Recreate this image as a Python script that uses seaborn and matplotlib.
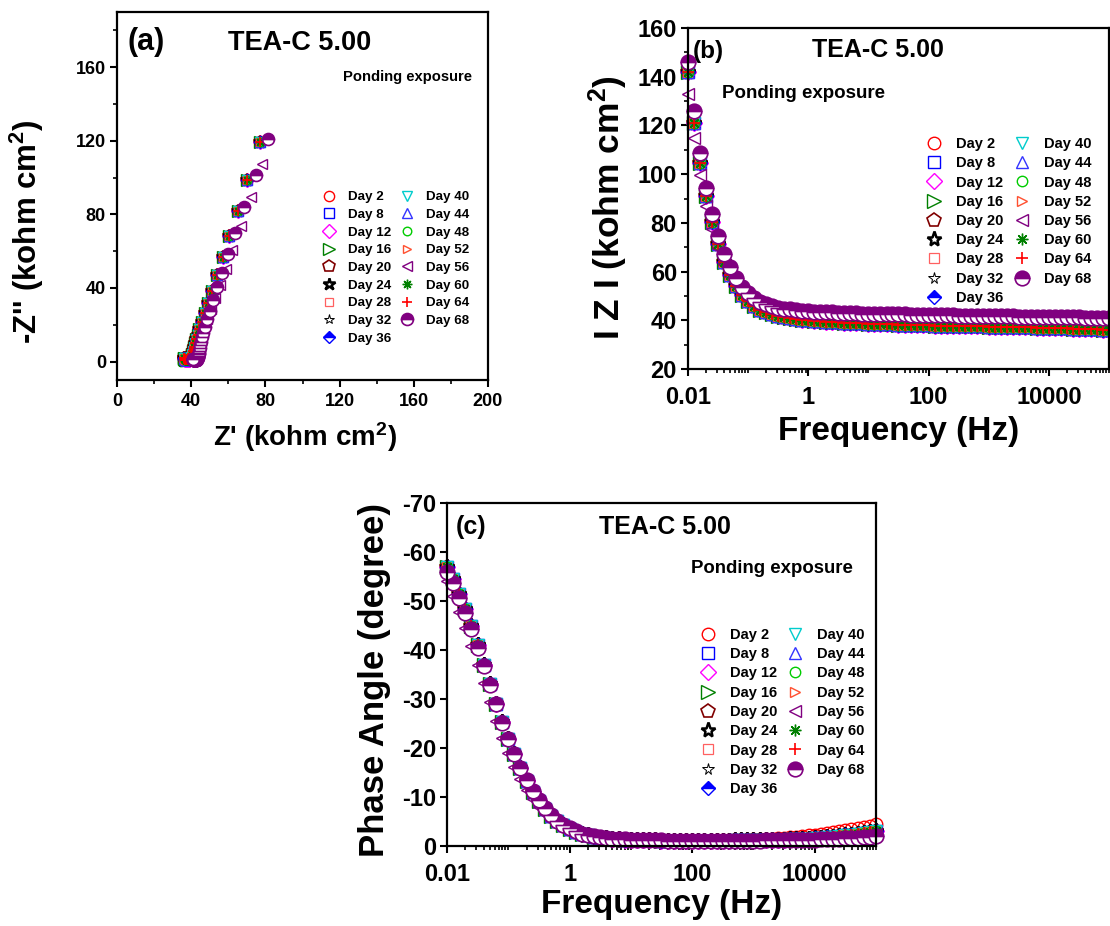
import numpy as np
import matplotlib
matplotlib.use("Agg")
import matplotlib.pyplot as plt
import seaborn as sns
from matplotlib.ticker import MultipleLocator, FixedLocator, FixedFormatter, LogLocator, NullFormatter

# ---------------- data ----------------
day_labels = ["Day 2", "Day 8", "Day 12", "Day 16", "Day 20", "Day 24", "Day 28", "Day 32", "Day 36",
              "Day 40", "Day 44", "Day 48", "Day 52", "Day 56", "Day 60", "Day 64", "Day 68"]

freq = [0.01, 0.0126, 0.0158, 0.02, 0.0251, 0.0316, 0.0398, 0.0501, 0.0631, 0.0794,
        0.1, 0.126, 0.158, 0.2, 0.251, 0.316, 0.398, 0.501, 0.631, 0.794,
        1, 1.26, 1.58, 2, 2.51, 3.16, 3.98, 5.01, 6.31, 7.94,
        10, 12.6, 15.8, 20, 25.1, 31.6, 39.8, 50.1, 63.1, 79.4,
        100, 126, 158, 200, 251, 316, 398, 501, 631, 794,
        1000, 1260, 1580, 2000, 2510, 3160, 3980, 5010, 6310, 7940,
        10000, 12600, 15800, 20000, 25100, 31600, 39800, 50100, 63100, 79400, 100000]

# |Z| (kohm cm2)
zmod_common = [142, 121, 104.5, 91, 80.5, 71.5, 64, 58.5, 54, 50.5, 47.8,
               45.8, 44.3, 43.2, 42.4, 41.8, 41.3, 40.9, 40.6, 40.3, 40.0,
               39.8, 39.6, 39.4, 39.25, 39.1, 39.0, 38.9, 38.8, 38.7, 38.6,
               38.5, 38.45, 38.4, 38.3, 38.25, 38.2, 38.1, 38.05, 38.0, 37.9,
               37.85, 37.8, 37.75, 37.7, 37.65, 37.6, 37.55, 37.5, 37.45, 37.4,
               37.35, 37.3, 37.25, 37.2, 37.15, 37.1, 37.05, 37.0, 36.95, 36.9,
               36.85, 36.8, 36.7, 36.6, 36.55, 36.5, 36.4, 36.3, 36.2, 36.1]
zmod_day56 = [133, 115, 99.5, 87, 77.3, 69.5, 63, 58, 54, 50.8, 48.3,
              46.5, 45.1, 44.0, 43.2, 42.6, 42.1, 41.7, 41.4, 41.1, 40.9,
              40.7, 40.55, 40.4, 40.3, 40.2, 40.1, 40.0, 39.95, 39.9, 39.85,
              39.8, 39.75, 39.7, 39.65, 39.6, 39.55, 39.5, 39.5, 39.45, 39.4,
              39.4, 39.35, 39.3, 39.3, 39.25, 39.2, 39.2, 39.15, 39.1, 39.1,
              39.05, 39.0, 39.0, 38.95, 38.9, 38.9, 38.85, 38.8, 38.8, 38.75,
              38.7, 38.7, 38.65, 38.6, 38.6, 38.55, 38.5, 38.5, 38.45, 38.4]
zmod_day68 = [146, 126, 108.5, 94.5, 83.5, 74.5, 67.2, 61.8, 57.3, 53.8, 51.0,
              49.0, 47.6, 46.6, 45.8, 45.2, 44.8, 44.5, 44.2, 44.0, 43.8,
              43.6, 43.45, 43.3, 43.2, 43.1, 43.0, 42.9, 42.8, 42.75, 42.7,
              42.65, 42.6, 42.55, 42.5, 42.45, 42.4, 42.35, 42.3, 42.25, 42.2,
              42.15, 42.1, 42.05, 42.0, 41.95, 41.9, 41.85, 41.8, 41.8, 41.75,
              41.7, 41.65, 41.6, 41.6, 41.55, 41.5, 41.45, 41.4, 41.4, 41.35,
              41.3, 41.25, 41.2, 41.2, 41.15, 41.1, 41.05, 41.0, 41.0, 40.95]

# phase angle (degree)
phase_common = [-57.0, -54.5, -51.5, -48.3, -44.8, -41.0, -37.0, -33.0, -29.0, -25.3, -21.8,
                -18.7, -15.9, -13.3, -11.1, -9.2, -7.6, -6.2, -5.1, -4.2, -3.5,
                -2.9, -2.5, -2.15, -1.9, -1.7, -1.55, -1.45, -1.35, -1.3, -1.25,
                -1.2, -1.2, -1.15, -1.15, -1.1, -1.1, -1.1, -1.1, -1.1, -1.1,
                -1.1, -1.1, -1.1, -1.1, -1.1, -1.1, -1.15, -1.15, -1.15, -1.2,
                -1.2, -1.25, -1.25, -1.3, -1.3, -1.35, -1.4, -1.45, -1.5, -1.6,
                -1.7, -1.8, -1.9, -2.0, -2.15, -2.3, -2.45, -2.6, -2.8, -3.0]
phase_day2 = [-56.0, -54.0, -51.2, -48.1, -44.7, -40.9, -37.0, -33.0, -29.0, -25.3, -21.8,
              -18.7, -15.9, -13.3, -11.1, -9.2, -7.6, -6.2, -5.1, -4.2, -3.5,
              -2.9, -2.5, -2.15, -1.9, -1.7, -1.55, -1.45, -1.35, -1.3, -1.25,
              -1.2, -1.2, -1.15, -1.15, -1.1, -1.1, -1.1, -1.1, -1.1, -1.1,
              -1.1, -1.1, -1.1, -1.15, -1.15, -1.2, -1.2, -1.25, -1.3, -1.35,
              -1.4, -1.45, -1.5, -1.6, -1.7, -1.8, -1.9, -2.0, -2.15, -2.3,
              -2.5, -2.7, -2.9, -3.1, -3.3, -3.5, -3.7, -3.9, -4.1, -4.4]
phase_day56 = [-54.0, -51.0, -47.8, -44.4, -40.8, -37.0, -33.2, -29.3, -25.6, -22.1, -19.0,
               -16.2, -13.7, -11.5, -9.6, -8.0, -6.6, -5.4, -4.4, -3.6, -3.0,
               -2.5, -2.15, -1.9, -1.7, -1.55, -1.45, -1.35, -1.3, -1.25, -1.2,
               -1.2, -1.15, -1.15, -1.1, -1.1, -1.1, -1.1, -1.1, -1.1, -1.1,
               -1.1, -1.1, -1.1, -1.1, -1.1, -1.1, -1.1, -1.1, -1.1, -1.1,
               -1.15, -1.15, -1.2, -1.2, -1.25, -1.25, -1.3, -1.35, -1.4, -1.45,
               -1.5, -1.6, -1.7, -1.8, -1.9, -2.0, -2.1, -2.25, -2.4, -2.55]
phase_day68 = [-56.0, -53.6, -50.7, -47.6, -44.3, -40.5, -36.8, -32.8, -28.9, -25.2, -21.8,
               -18.8, -16.0, -13.4, -11.2, -9.3, -7.7, -6.3, -5.2, -4.3, -3.6,
               -3.0, -2.55, -2.2, -1.95, -1.75, -1.6, -1.5, -1.4, -1.35, -1.3,
               -1.25, -1.2, -1.2, -1.15, -1.15, -1.1, -1.1, -1.1, -1.1, -1.1,
               -1.1, -1.1, -1.1, -1.1, -1.1, -1.1, -1.1, -1.1, -1.1, -1.1,
               -1.1, -1.15, -1.15, -1.15, -1.2, -1.2, -1.2, -1.25, -1.25, -1.3,
               -1.35, -1.4, -1.45, -1.5, -1.55, -1.6, -1.7, -1.75, -1.85, -1.95]

# Nyquist: Z' and -Z'' (kohm cm2)
zre_common = [77.3, 70.3, 65.1, 60.5, 57.1, 54.0, 51.1, 49.1, 47.2, 45.7, 44.4,
              43.4, 42.6, 42.0, 41.6, 41.3, 40.9, 40.7, 40.4, 40.2, 39.9,
              39.75, 39.55, 39.4, 39.2, 39.1, 39.0, 38.9, 38.8, 38.7, 38.6,
              38.5, 38.45, 38.4, 38.3, 38.25, 38.2, 38.1, 38.05, 38.0, 37.9,
              37.85, 37.8, 37.75, 37.7, 37.65, 37.6, 37.55, 37.5, 37.45, 37.4,
              37.35, 37.3, 37.25, 37.2, 37.15, 37.1, 37.05, 37.0, 36.95, 36.9,
              36.85, 36.8, 36.7, 36.6, 36.55, 36.5, 36.4, 36.3, 36.2, 36.1]
zim_common = [119.1, 98.5, 81.8, 68.0, 56.7, 46.9, 38.5, 31.9, 26.2, 21.6, 17.8,
              14.7, 12.1, 9.9, 8.2, 6.7, 5.5, 4.4, 3.6, 3.0, 2.4,
              2.0, 1.7, 1.5, 1.3, 1.2, 1.05, 1.0, 0.9, 0.9, 0.85,
              0.8, 0.8, 0.75, 0.75, 0.75, 0.75, 0.75, 0.75, 0.75, 0.75,
              0.7, 0.7, 0.7, 0.7, 0.7, 0.7, 0.75, 0.75, 0.75, 0.8,
              0.8, 0.8, 0.8, 0.85, 0.85, 0.85, 0.9, 0.95, 0.95, 1.0,
              1.1, 1.15, 1.2, 1.3, 1.35, 1.45, 1.55, 1.65, 1.75, 1.9]
zre_day56 = [78.2, 72.4, 66.8, 62.2, 58.5, 55.5, 52.7, 50.6, 48.7, 47.1, 45.7,
             44.7, 43.8, 43.1, 42.6, 42.2, 41.8, 41.5, 41.3, 41.0, 40.85,
             40.65, 40.5, 40.4, 40.3, 40.2, 40.1, 40.0, 39.95, 39.9, 39.85,
             39.8, 39.75, 39.7, 39.65, 39.6, 39.55, 39.5, 39.5, 39.45, 39.4,
             39.4, 39.35, 39.3, 39.3, 39.25, 39.2, 39.2, 39.15, 39.1, 39.1,
             39.05, 39.0, 39.0, 38.95, 38.9, 38.9, 38.85, 38.8, 38.8, 38.75,
             38.7, 38.7, 38.65, 38.6, 38.6, 38.55, 38.5, 38.5, 38.45, 38.4]
zim_day56 = [107.6, 89.4, 73.7, 60.9, 50.5, 41.8, 34.5, 28.4, 23.3, 19.1, 15.7,
             13.0, 10.7, 8.8, 7.2, 5.9, 4.8, 3.9, 3.2, 2.6, 2.1,
             1.8, 1.5, 1.35, 1.2, 1.1, 1.0, 0.95, 0.9, 0.85, 0.85,
             0.85, 0.8, 0.8, 0.75, 0.75, 0.75, 0.75, 0.75, 0.75, 0.75,
             0.75, 0.75, 0.75, 0.75, 0.75, 0.75, 0.75, 0.75, 0.75, 0.75,
             0.8, 0.8, 0.8, 0.8, 0.85, 0.85, 0.9, 0.9, 0.95, 1.0,
             1.0, 1.1, 1.15, 1.2, 1.3, 1.35, 1.4, 1.5, 1.6, 1.7]
zre_day68 = [81.6, 74.8, 68.7, 63.7, 59.8, 56.6, 53.8, 51.9, 50.2, 48.7, 47.4,
             46.4, 45.8, 45.3, 44.9, 44.6, 44.4, 44.2, 44.0, 43.9, 43.7,
             43.55, 43.4, 43.3, 43.2, 43.1, 43.0, 42.9, 42.8, 42.75, 42.7,
             42.65, 42.6, 42.55, 42.5, 42.45, 42.4, 42.35, 42.3, 42.25, 42.2,
             42.15, 42.1, 42.05, 42.0, 41.95, 41.9, 41.85, 41.8, 41.8, 41.75,
             41.7, 41.65, 41.6, 41.6, 41.55, 41.5, 41.45, 41.4, 41.4, 41.35,
             41.3, 41.25, 41.2, 41.2, 41.15, 41.1, 41.05, 41.0, 41.0, 40.95]
zim_day68 = [121.0, 101.4, 84.0, 69.8, 58.3, 48.4, 40.3, 33.5, 27.7, 22.9, 18.9,
             15.8, 13.1, 10.8, 8.9, 7.3, 6.0, 4.9, 4.0, 3.3, 2.75,
             2.3, 1.9, 1.65, 1.5, 1.3, 1.2, 1.1, 1.05, 1.0, 0.95,
             0.95, 0.9, 0.9, 0.85, 0.85, 0.8, 0.8, 0.8, 0.8, 0.8,
             0.8, 0.8, 0.8, 0.8, 0.8, 0.8, 0.8, 0.8, 0.8, 0.8,
             0.8, 0.85, 0.85, 0.85, 0.85, 0.85, 0.85, 0.9, 0.9, 0.95,
             0.95, 1.0, 1.05, 1.05, 1.1, 1.15, 1.2, 1.25, 1.3, 1.4]

zmod_by_day = {"Day 56": zmod_day56, "Day 68": zmod_day68}
phase_by_day = {"Day 2": phase_day2, "Day 56": phase_day56, "Day 68": phase_day68}
zre_by_day = {"Day 56": zre_day56, "Day 68": zre_day68}
zim_by_day = {"Day 56": zim_day56, "Day 68": zim_day68}

# ---------------- marker styles ----------------
STY = {
    "Day 2":  dict(marker="o", color="#FF0000", ms=9.0, mew=1.0, fill="none"),
    "Day 8":  dict(marker="s", color="#0000FF", ms=8.0, mew=1.0, fill="none"),
    "Day 12": dict(marker="D", color="#FF00FF", ms=8.3, mew=1.0, fill="none"),
    "Day 16": dict(marker=">", color="#008000", ms=10.0, mew=1.0, fill="none"),
    "Day 20": dict(marker="p", color="#800000", ms=10.5, mew=1.2, fill="none"),
    "Day 24": dict(marker="*", color="#000000", ms=11.0, mew=1.8, fill="none"),
    "Day 28": dict(marker="s", color="#FF6060", ms=6.5, mew=0.9, fill="none"),
    "Day 32": dict(marker="*", color="#000000", ms=8.5, mew=0.7, fill="none"),
    "Day 36": dict(marker="D", color="#0000FF", ms=7.3, mew=1.0, fill="top"),
    "Day 40": dict(marker="v", color="#00CCCC", ms=8.8, mew=1.0, fill="none"),
    "Day 44": dict(marker="^", color="#3333FF", ms=8.4, mew=1.0, fill="none"),
    "Day 48": dict(marker="o", color="#00CC00", ms=7.5, mew=1.0, fill="none"),
    "Day 52": dict(marker=">", color="#FF5030", ms=7.8, mew=1.0, fill="none"),
    "Day 56": dict(marker="<", color="#800080", ms=8.6, mew=1.0, fill="none"),
    "Day 60": dict(marker=(8, 2, 0), color="#008000", ms=8.4, mew=1.0, fill="line"),
    "Day 64": dict(marker="+", color="#FF0000", ms=9.0, mew=1.2, fill="line"),
    "Day 68": dict(marker="o", color="#800080", ms=10.5, mew=1.2, fill="top"),
}

# ---------------- theme ----------------
sns.set_theme(style="ticks")
plt.rcParams["font.family"] = ["Liberation Sans", "DejaVu Sans"]
plt.rcParams["font.weight"] = "bold"
plt.rcParams["axes.labelweight"] = "bold"
plt.rcParams["axes.unicode_minus"] = False
plt.rcParams["text.color"] = "black"
plt.rcParams["axes.labelcolor"] = "black"
plt.rcParams["xtick.color"] = "black"
plt.rcParams["ytick.color"] = "black"
plt.rcParams["axes.edgecolor"] = "black"
plt.rcParams["mathtext.fontset"] = "custom"
plt.rcParams["mathtext.rm"] = "Liberation Sans:bold"
plt.rcParams["mathtext.bf"] = "Liberation Sans:bold"
plt.rcParams["mathtext.it"] = "Liberation Sans:bold"
plt.rcParams["mathtext.default"] = "rm"

fig = plt.figure(figsize=(11.1, 9.26), dpi=100)
fig.patch.set_facecolor("white")

W, H = 1110.0, 926.0


def add_axes_px(left, top, right, bottom):
    return fig.add_axes([left / W, 1 - bottom / H, (right - left) / W, (bottom - top) / H])


def draw(ax, x, y, label, scale):
    st = STY[label]
    kw = dict(marker=st["marker"], markersize=st["ms"] * scale, markeredgewidth=st["mew"],
              markeredgecolor=st["color"], color=st["color"], linestyle="", clip_on=False)
    if st["fill"] == "none":
        kw["markerfacecolor"] = "none"
    elif st["fill"] == "top":
        kw["fillstyle"] = "top"
        kw["markerfacecolor"] = st["color"]
        kw["markerfacecoloralt"] = "white"
    sns.lineplot(x=x, y=y, ax=ax, estimator=None, sort=False, errorbar=None,
                 legend=False, label=label, **kw)


def style_axes(ax, labelsize, xpad=3, ypad=3, major_len=5, minor_len=3):
    for sp in ax.spines.values():
        sp.set_linewidth(1.6)
        sp.set_color("black")
        sp.set_visible(True)
    ax.tick_params(which="major", direction="out", length=major_len, width=1.5,
                   labelsize=labelsize, top=False, right=False, colors="black")
    ax.tick_params(axis="x", which="major", pad=xpad)
    ax.tick_params(axis="y", which="major", pad=ypad)
    ax.tick_params(which="minor", direction="out", length=minor_len, width=1.2,
                   top=False, right=False, colors="black")
    ax.set_facecolor("white")


def add_legend(ax, x_px, y_px, fs, hlen=1.0, htp=1.0, cs=0.75, ls=0.35):
    h, l = ax.get_legend_handles_labels()
    leg = ax.legend(h, l, ncol=2, frameon=False, loc="upper left",
                    bbox_to_anchor=(x_px / W, 1 - y_px / H), bbox_transform=fig.transFigure,
                    borderpad=0, borderaxespad=0, handlelength=hlen, handletextpad=htp,
                    columnspacing=cs, labelspacing=ls, numpoints=1,
                    prop={"size": fs, "weight": "bold", "family": ["Liberation Sans"]})
    for t in leg.get_texts():
        t.set_color("black")


# ---------------- panel (a): Nyquist ----------------
axa = add_axes_px(117, 12, 488, 380)
for lab in day_labels:
    draw(axa, zre_by_day.get(lab, zre_common), zim_by_day.get(lab, zim_common), lab, 0.82)
axa.set_xlim(0, 200)
axa.set_ylim(-10, 190)
axa.xaxis.set_major_locator(MultipleLocator(40))
axa.xaxis.set_minor_locator(MultipleLocator(20))
axa.yaxis.set_major_locator(FixedLocator([0, 40, 80, 120, 160]))
axa.yaxis.set_minor_locator(FixedLocator([20, 60, 100, 140, 180]))
style_axes(axa, 13, xpad=4)
axa.set_xlabel("Z' (kohm cm$^{2}$)", fontsize=20)
axa.set_ylabel("-Z'' (kohm cm$^{2}$)", fontsize=22.5)
axa.xaxis.label.set_va("center")
axa.yaxis.label.set_va("center")
axa.xaxis.set_label_coords(0.507, -0.155)
axa.yaxis.set_label_coords(-0.2426, 0.402)
axa.text(0.0296, 0.918, "(a)", transform=axa.transAxes, fontsize=22, ha="left", va="center")
axa.text(0.493, 0.916, "TEA-C 5.00", transform=axa.transAxes, fontsize=19.5, ha="center", va="center")
axa.text(0.782, 0.823, "Ponding exposure", transform=axa.transAxes, fontsize=10.6, ha="center", va="center")
add_legend(axa, 322.3, 191.0, 9.6, htp=0.93, cs=0.71, ls=0.40)

# ---------------- panel (b): |Z| vs frequency ----------------
axb = add_axes_px(688, 28, 1109, 369)
axb.set_xscale("log")
for lab in day_labels:
    draw(axb, freq, zmod_by_day.get(lab, zmod_common), lab, 1.0)
axb.set_xlim(0.01, 1e5)
axb.set_ylim(20, 160)
axb.xaxis.set_major_locator(FixedLocator([0.01, 1, 100, 10000]))
axb.xaxis.set_major_formatter(FixedFormatter(["0.01", "1", "100", "10000"]))
axb.xaxis.set_minor_locator(LogLocator(base=10, subs=np.arange(1, 10), numticks=100))
axb.xaxis.set_minor_formatter(NullFormatter())
axb.yaxis.set_major_locator(MultipleLocator(20))
axb.yaxis.set_minor_locator(MultipleLocator(10))
style_axes(axb, 17, xpad=7)
axb.set_xlabel("Frequency (Hz)", fontsize=24)
axb.set_ylabel("I Z I (kohm cm$^{2}$)", fontsize=25.5)
axb.xaxis.label.set_va("center")
axb.yaxis.label.set_va("center")
axb.xaxis.set_label_coords(0.499, -0.182)
axb.yaxis.set_label_coords(-0.19, 0.472)
axb.text(0.012, 0.93, "(b)", transform=axb.transAxes, fontsize=17.5, ha="left", va="center")
axb.text(0.45, 0.935, "TEA-C 5.00", transform=axb.transAxes, fontsize=18, ha="center", va="center")
axb.text(0.275, 0.809, "Ponding exposure", transform=axb.transAxes, fontsize=13.5, ha="center", va="center")
add_legend(axb, 926.7, 137.0, 10.5, cs=0.8, ls=0.36)

# ---------------- panel (c): phase vs frequency ----------------
axc = add_axes_px(447, 503, 876, 846)
axc.set_xscale("log")
for lab in day_labels:
    draw(axc, freq, phase_by_day.get(lab, phase_common), lab, 1.0)
axc.set_xlim(0.01, 1e5)
axc.set_ylim(0, -70)
axc.xaxis.set_major_locator(FixedLocator([0.01, 1, 100, 10000]))
axc.xaxis.set_major_formatter(FixedFormatter(["0.01", "1", "100", "10000"]))
axc.xaxis.set_minor_locator(LogLocator(base=10, subs=np.arange(1, 10), numticks=100))
axc.xaxis.set_minor_formatter(NullFormatter())
axc.yaxis.set_major_locator(MultipleLocator(10))
style_axes(axc, 17, xpad=7)
axc.set_xlabel("Frequency (Hz)", fontsize=24)
axc.set_ylabel("Phase Angle (degree)", fontsize=25)
axc.xaxis.label.set_va("center")
axc.yaxis.label.set_va("center")
axc.xaxis.set_label_coords(0.501, -0.172)
axc.yaxis.set_label_coords(-0.168, 0.484)
axc.text(0.021, 0.930, "(c)", transform=axc.transAxes, fontsize=18, ha="left", va="center")
axc.text(0.508, 0.930, "TEA-C 5.00", transform=axc.transAxes, fontsize=18, ha="center", va="center")
axc.text(0.758, 0.81, "Ponding exposure", transform=axc.transAxes, fontsize=13.4, ha="center", va="center")
add_legend(axc, 700.7, 628.0, 10.5, cs=0.73, ls=0.36)

fig.savefig("out.png", dpi=100, facecolor="white")
